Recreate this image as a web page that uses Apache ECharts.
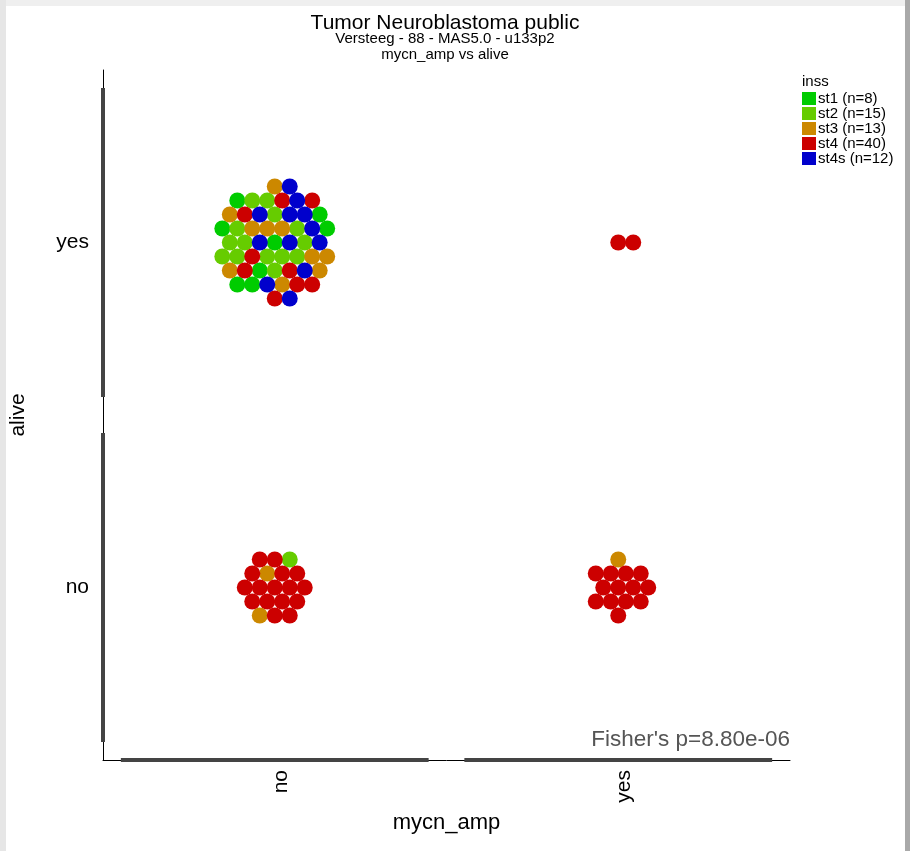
<!DOCTYPE html>
<html>
<head>
	<meta charset="UTF-8">
	<script src="https://cdn.jsdelivr.net/npm/echarts@6/dist/echarts.min.js"></script>
	<title></title>
	<style>
		body { margin: 0; background: #fff; }
		.edge { position: absolute; z-index: 0; }
	</style>
</head>
<body>
	<div class="edge" style="left:0;top:0;width:910px;height:6px;background:#efefef;"></div>
	<div class="edge" style="left:0;top:0;width:6px;height:851px;background:#e6e6e6;"></div>
	<div class="edge" style="left:905px;top:0;width:5px;height:851px;background:#a9a9a9;"></div>
	<div id="main" style="position:absolute;left:0;top:0;z-index:1;height:851px;width:910px;"></div>
	<script type="text/javascript">
        var xCats = ['no', 'yes'];   // mycn_amp
        var yCats = ['no', 'yes'];   // alive
        var stages = ['st1', 'st2', 'st3', 'st4', 'st4s'];
        var stageColors = ['#00cc00', '#66cc00', '#cc8800', '#cc0000', '#0000cc'];

        // inss stage of every sample, per cell, read top-left to bottom-right
        var ampNoAliveYes = ['st3', 'st4s', 'st1', 'st2', 'st2',
            'st4', 'st4s', 'st4', 'st3', 'st4',
            'st4s', 'st2', 'st4s', 'st4s', 'st1',
            'st1', 'st2', 'st3', 'st3',
            'st3', 'st2', 'st4s', 'st1',
            'st2', 'st2', 'st4s', 'st1',
            'st4s', 'st2', 'st4s', 'st2',
            'st2', 'st4', 'st2', 'st2', 'st2',
            'st3', 'st3', 'st3',
            'st4', 'st1', 'st2', 'st4', 'st4s',
            'st3', 'st1', 'st1',
            'st4s', 'st3', 'st4', 'st4',
            'st4', 'st4s'];
        var ampNoAliveNo = ['st4', 'st4', 'st2',
            'st4', 'st3', 'st4', 'st4',
            'st4', 'st4', 'st4', 'st4', 'st4',
            'st4', 'st4', 'st4', 'st4',
            'st3', 'st4', 'st4'];
        var ampYesAliveYes = ['st4', 'st4'];
        var ampYesAliveNo = ['st3', 'st4', 'st4', 'st4', 'st4', 'st4', 'st4',
            'st4', 'st4', 'st4', 'st4', 'st4', 'st4', 'st4'];

        var fisherText = "Fisher's p=8.80e-06";

        var cells = [
            {x: 0, y: 1, list: ampNoAliveYes},
            {x: 0, y: 0, list: ampNoAliveNo},
            {x: 1, y: 1, list: ampYesAliveYes},
            {x: 1, y: 0, list: ampYesAliveNo}
        ];

        var gridLeft = 102, gridTop = 70, gridW = 688, gridH = 690;
        var pxX = gridW / xCats.length, pxY = gridH / yCats.length;
        var dotStep = 15, rowStep = 14;

        // hex packing around the cell centre, closest spots first, then in reading order
        function packOffsets(n) {
            var pts = [], R = Math.ceil(Math.sqrt(n)) + 2;
            for (var r = -R; r <= R; r++) {
                for (var k = -R; k <= R; k++) {
                    var x = (k + (Math.abs(r) % 2) * 0.5) * dotStep, y = r * rowStep;
                    pts.push({x: x, y: y, d: Math.sqrt(x * x + y * y)});
                }
            }
            pts.sort(function (a, b) { return (a.d - b.d) || (b.x - a.x) || (b.y - a.y); });
            var sel = pts.slice(0, n);
            sel.sort(function (a, b) { return (a.y - b.y) || (a.x - b.x); });
            return sel;
        }

        var seriesData = stages.map(function () { return []; });
        cells.forEach(function (c) {
            var offs = packOffsets(c.list.length);
            c.list.forEach(function (st, i) {
                seriesData[stages.indexOf(st)].push([c.x + 0.5 + offs[i].x / pxX, c.y + 0.5 - offs[i].y / pxY]);
            });
        });
        var counts = seriesData.map(function (d) { return d.length; });

        function catLabel(cats) {
            return function (v) {
                var i = Math.round(v - 0.5);
                return (Math.abs(v - 0.5 - i) < 1e-6 && cats[i] !== undefined) ? cats[i] : '';
            };
        }

        // thick bars along the axes, one per category
        var pad = 0.052;
        var barLines = [];
        xCats.forEach(function (c, i) {
            barLines.push([{coord: [i + pad, 0]}, {coord: [i + 1 - pad, 0]}]);
        });
        yCats.forEach(function (c, i) {
            barLines.push([{coord: [0, i + pad]}, {coord: [0, i + 1 - pad]}]);
        });

        var font = 'Liberation Sans, Arial, sans-serif';
        var series = stages.map(function (st, i) {
            return {
                name: st,
                type: 'scatter',
                symbolSize: 16,
                itemStyle: {color: stageColors[i], opacity: 1},
                emphasis: {disabled: true},
                data: seriesData[i]
            };
        });
        series.push({
            name: 'axisbars',
            type: 'line',
            data: [],
            clip: false,
            silent: true,
            markLine: {
                silent: true,
                symbol: ['none', 'none'],
                label: {show: false},
                lineStyle: {color: '#444', width: 4, type: 'solid'},
                emphasis: {disabled: true},
                data: barLines
            }
        });

        var myChart = echarts.init(document.getElementById('main'));
        var option = {
            backgroundColor: 'transparent',
            animation: false,
            textStyle: {fontFamily: font},
            title: {
                text: 'Tumor Neuroblastoma public',
                subtext: 'Versteeg - 88 - MAS5.0 - u133p2\nmycn_amp vs alive',
                left: 440,
                top: 8,
                textAlign: 'center',
                itemGap: -3,
                textStyle: {fontSize: 21, fontWeight: 'normal', color: '#000', fontFamily: font},
                subtextStyle: {fontSize: 15, lineHeight: 16, color: '#000', fontFamily: font}
            },
            legend: {
                data: stages,
                orient: 'vertical',
                left: 802,
                top: 91,
                padding: 0,
                itemWidth: 14,
                itemHeight: 13,
                itemGap: 0,
                icon: 'rect',
                selectedMode: false,
                formatter: function (name) {
                    return name + ' (n=' + counts[stages.indexOf(name)] + ')';
                },
                textStyle: {fontSize: 15, lineHeight: 15, color: '#000', fontFamily: font, padding: [0, 0, 0, -3]}
            },
            graphic: [
                {type: 'text', left: 802, top: 74, style: {text: 'inss', fontSize: 15, fill: '#000', fontFamily: font}},
                {type: 'text', right: 120, top: 728, style: {text: fisherText, fontSize: 22.5, fill: '#555', fontFamily: font}}
            ],
            grid: {left: gridLeft, top: gridTop, width: gridW, height: gridH},
            xAxis: {
                type: 'value',
                min: 0,
                max: xCats.length,
                interval: 0.5,
                name: 'mycn_amp',
                nameLocation: 'middle',
                nameGap: 52,
                nameTextStyle: {fontSize: 22, color: '#000'},
                axisLine: {show: true, lineStyle: {color: '#000', width: 1}},
                axisTick: {show: false},
                splitLine: {show: false},
                axisLabel: {rotate: 90, margin: 10, fontSize: 21, color: '#000', verticalAlign: 'top', lineHeight: 12,
                    formatter: catLabel(xCats)}
            },
            yAxis: {
                type: 'value',
                min: 0,
                max: yCats.length,
                interval: 0.5,
                name: 'alive',
                nameLocation: 'middle',
                nameGap: 74,
                nameTextStyle: {fontSize: 21, color: '#000'},
                axisLine: {show: true, lineStyle: {color: '#000', width: 1}},
                axisTick: {show: false},
                splitLine: {show: false},
                axisLabel: {margin: 14, fontSize: 21, color: '#000', formatter: catLabel(yCats)}
            },
            series: series
        };
        myChart.setOption(option);
	</script>
</body>
</html>
